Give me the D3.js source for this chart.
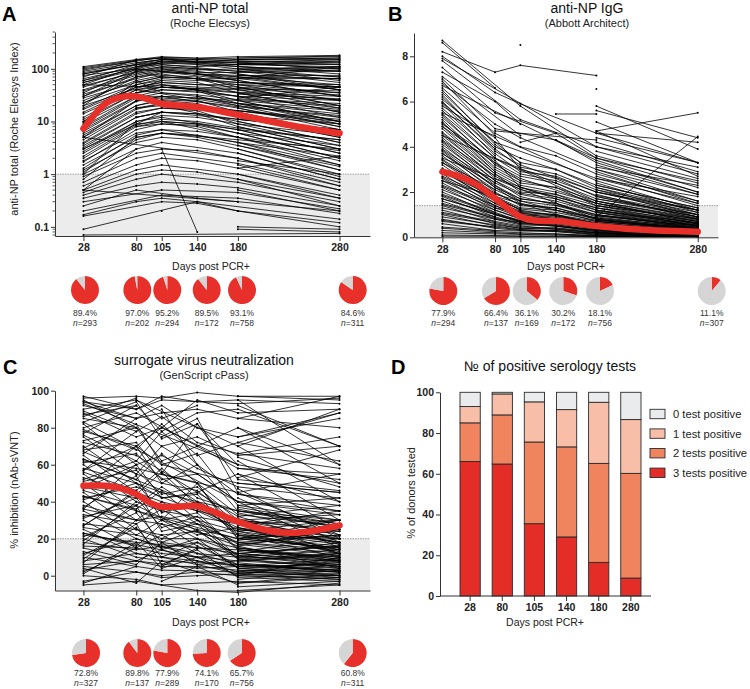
<!DOCTYPE html>
<html><head><meta charset="utf-8">
<script src="https://cdn.jsdelivr.net/npm/d3@7"></script>
<style>
html,body{margin:0;padding:0;background:#fff;}
svg{display:block;font-family:"Liberation Sans",Arial,Helvetica,sans-serif;}
</style></head>
<body>
<svg id="chart" width="750" height="689"></svg>
<script>
// ---------------- DATA ----------------
const days = [28, 80, 105, 140, 180, 280];
const n_ = null;

// Panel A: anti-NP total (Roche Elecsys Index), per-donor trajectories at days
const linesA = [
[110,150,170,160,170,180],[95,140,165,n_,150,150],[90,130,150,150,140,120],[80,120,n_,140,130,100],
[70,150,160,130,110,90],[60,100,130,120,100,70],[50,110,120,n_,90,55],[45,90,110,100,80,45],
[40,80,100,90,70,40],[35,100,90,80,60,30],[30,70,80,n_,50,25],[25,60,75,70,45,20],
[20,90,70,65,40,18],[18,50,60,55,35,15],[15,45,50,n_,30,12],[12,40,45,40,25,10],
[10,35,40,38,22,9],[9,60,35,30,20,8],[8,30,30,n_,18,7],[7,25,28,25,15,6],
[6,20,25,22,12,5],[5,18,20,n_,10,4],[4,15,18,16,9,3.5],[3.5,12,15,14,8,3],
[3,10,12,n_,7,2.5],[2.5,9,10,9,6,2],[2,8,9,8,5,1.8],[1.8,6,7,n_,4,1.5],
[1.5,5,6,5,3.5,1.2],[1.2,4,5,4.5,3,1],[1,3,4,n_,2.5,0.8],[0.9,2.5,3,2.8,2,0.7],
[0.7,2,2.5,n_,1.6,0.6],[0.6,1.5,2,1.8,1.3,0.5],[0.5,1.2,1.5,n_,1,0.4],[0.45,1,1.2,1.1,0.8,0.35],
[0.4,0.8,1,n_,0.7,0.3],[0.35,0.6,0.7,0.65,0.55,0.25],[0.3,n_,0.5,n_,0.45,0.22],[0.25,0.5,n_,0.35,0.3,0.2],
[0.2,n_,0.4,n_,0.35,0.18],[0.17,0.3,0.35,0.3,n_,0.14],[0.16,n_,0.3,0.28,0.2,0.12],[0.09,n_,n_,0.3,0.2,0.1],
[0.07,n_,n_,n_,n_,0.075],[n_,n_,3,0.08,n_,n_],
[105,145,160,150,160,170],[85,120,140,130,150,160],[65,110,140,135,130,150],[55,95,120,110,120,130],
[48,85,105,95,100,110],[38,75,95,85,85,90],[33,65,85,80,75,75],[28,55,70,65,65,65],
[23,50,65,60,55,50],[17,45,55,50,50,45],[14,40,50,45,42,38],[11,35,45,42,36,30],
[9.5,30,40,36,30,25],[7.5,28,35,32,26,20],[6.5,24,30,28,22,16],[5.5,20,26,24,19,13],
[4.5,17,22,20,16,11],[3.8,14,18,17,13,9],[3.2,12,15,14,11,7],[2.7,10,13,12,9,5.5],
[2.2,8.5,11,10,7.5,4.5],[1.7,7,9,8.5,6,3.5],[1.3,5.5,7,6.5,5,2.8],[1.1,4.5,6,5.5,4,2.2],
[n_,130,150,140,140,140],[n_,110,130,n_,120,110],[n_,90,110,100,90,95],[n_,70,90,n_,70,65],
[n_,55,70,65,55,45],[n_,45,55,n_,45,35],[n_,35,45,40,35,26],[n_,25,30,n_,25,17],
[n_,18,22,20,16,10],[n_,12,15,n_,11,7],[n_,8,10,9,7,4.5],[n_,5,6,n_,4.5,3],
[n_,n_,n_,n_,150,160],[n_,n_,n_,n_,140,130],[n_,n_,n_,n_,120,140],[n_,n_,n_,n_,110,80],
[n_,n_,n_,n_,100,60],[n_,n_,n_,n_,90,70],[n_,n_,n_,n_,80,40],[n_,n_,n_,n_,70,50],
[n_,n_,n_,n_,60,30],[n_,n_,n_,n_,50,35],[n_,n_,n_,n_,45,20],[n_,n_,n_,n_,40,25],
[n_,n_,n_,n_,35,15],[n_,n_,n_,n_,30,18],[n_,n_,n_,n_,25,10],[n_,n_,n_,n_,20,12],
[n_,n_,n_,n_,18,8],[n_,n_,n_,n_,15,6],[n_,n_,n_,n_,12,5],[n_,n_,n_,n_,10,4],
[n_,n_,n_,n_,8,3],[n_,n_,n_,n_,6,2],[n_,n_,n_,n_,5,1.5],[n_,n_,n_,n_,4,1.2],
[n_,n_,n_,n_,3,0.9],[n_,n_,n_,n_,2,0.6],[n_,n_,n_,n_,1.5,0.5],[n_,n_,n_,n_,1.3,2.2],
[n_,n_,n_,n_,1,0.35],[n_,n_,n_,n_,0.8,0.25],[n_,n_,n_,n_,0.5,0.2],[n_,n_,n_,n_,0.1,0.09],
[n_,n_,n_,n_,0.09,0.08],[n_,n_,n_,n_,130,100],[n_,n_,n_,n_,65,110],[n_,n_,n_,n_,28,45],
[n_,n_,n_,n_,160,175],[n_,n_,n_,n_,125,120],[n_,n_,n_,n_,95,105],[n_,n_,n_,n_,75,65],
[n_,n_,n_,n_,55,45],[n_,n_,n_,n_,42,32],[n_,n_,n_,n_,33,27],[n_,n_,n_,n_,27,22],
[n_,n_,n_,n_,22,14],[n_,n_,n_,n_,16,9],[n_,n_,n_,n_,11,7],[n_,n_,n_,n_,7,2.5],
[n_,n_,n_,n_,3.5,1.4],[n_,n_,n_,n_,2.5,0.8],[n_,n_,n_,n_,1.8,1.0],
[100,140],[60,120],[30,90],[10,50],[5,25],[1,10],[0.5,3],[0.8,5],[75,100],[22,70],
[80,n_,150],[20,n_,60],[3,n_,15],[55,n_,140],
[n_,n_,150,n_,120],[n_,n_,100,n_,60],[n_,n_,50,n_,30],[n_,n_,10,n_,5],[n_,n_,0.2],
[n_,n_,n_,80,n_,40],[n_,n_,n_,30,n_,10],[n_,n_,n_,120,n_,90],
[50,n_,n_,n_,40],[5,n_,n_,n_,2],[0.5,n_,n_,n_,0.3],[n_,100,n_,n_,60],[n_,40,n_,n_,20]
];
const trendDaysA = [28, 50, 65, 80, 95, 105, 140, 180, 230, 280];
const trendA     = [7.3, 22, 29, 30, 25, 21.7, 18.8, 13.4, 8.6, 6];

// Panel B: anti-NP IgG (Abbott Architect)
const linesB = [
[8.7,n_,5.8,n_,3.6],[8.6,6.6],[8.2,7.3,7.6,n_,7.15],[8.0,6.4,5.9,n_,4.6,3.3],
[7.8,n_,5.2,n_,4.0,2.8],[7.5,5.5,n_,4.6,3.5,2.5],[7.3,6.0,5.0],[7.0,4.8,n_,4.3,3.3,2.0],
[6.8,5.0,4.4,n_,3.0,1.9],[6.6,4.6,4.0,3.6,2.8,1.6],[6.4,4.2,n_,n_,2.6,1.5],[6.2,4.0,3.5,3.0,2.2,1.2],
[6.0,3.8,3.2,n_,2.0,1.0],[5.8,4.4,3.0,2.6,1.8,0.9],[5.6,3.5,n_,2.4,1.6,0.8],[5.4,3.2,2.6,n_,1.5,0.7],
[5.2,3.0,2.4,2.2,1.4,0.6],[5.0,3.4,2.2,n_,1.3,0.6],[4.8,2.8,2.0,1.9,1.2,0.5],[4.6,2.6,n_,1.7,1.1,0.5],
[4.4,2.5,1.8,n_,1.0,0.4],[4.2,2.3,1.7,1.5,0.9,0.4],[4.0,2.2,1.5,n_,0.85,0.35],[3.8,2.0,1.4,1.3,0.8,0.3],
[3.6,1.9,n_,1.2,0.7,0.3],[3.4,1.8,1.2,n_,0.65,0.25],[3.2,1.6,1.1,1.0,0.6,0.25],[3.0,1.5,1.0,n_,0.55,0.2],
[2.8,1.4,0.9,0.85,0.5,0.2],[2.6,1.3,n_,0.8,0.45,0.18],[2.4,1.2,0.8,n_,0.4,0.15],[2.2,1.1,0.7,0.65,0.35,0.15],
[2.0,1.0,0.65,n_,0.3,0.12],[1.8,0.9,0.6,0.55,0.3,0.1],[1.6,0.8,n_,0.5,0.25,0.1],[1.4,0.7,0.5,n_,0.2,0.08],
[1.2,0.6,0.4,0.4,0.2,0.07],[1.0,0.5,0.35,n_,0.15,0.06],[0.8,0.4,0.3,0.3,0.12,0.05],[0.6,0.3,n_,0.25,0.1,0.05],
[0.4,0.25,0.2,n_,0.08,0.04],[0.3,0.2,0.15,0.15,0.06,0.03],[0.2,0.15,n_,0.1,0.05,0.03],[0.1,0.08,0.06,n_,0.04,0.02],
[0.05,n_,0.04,0.04,0.03,0.02],
[6.5,4.1,3.3,3.0,2.3,1.3],[5.7,3.7,2.9,2.7,2.0,1.1],[5.3,3.3,2.7,2.4,1.7,0.9],[4.9,2.9,2.3,2.0,1.5,0.8],
[4.5,2.7,2.1,1.8,1.3,0.7],[4.1,2.4,1.9,1.6,1.1,0.6],[3.7,2.1,1.6,1.4,0.95,0.5],[3.3,1.8,1.3,1.2,0.8,0.4],
[2.9,1.6,1.15,1.0,0.7,0.35],[2.5,1.4,1.0,0.9,0.6,0.3],[2.1,1.2,0.85,0.75,0.5,0.25],[1.7,1.0,0.7,0.6,0.4,0.2],
[1.3,0.8,0.55,0.5,0.3,0.15],[0.9,0.55,0.4,0.35,0.2,0.1],
[5.95,3.9,3.1,2.8,2.1,1.2],[5.45,3.5,2.8,2.5,1.85,1.0],[5.05,3.1,2.5,2.2,1.6,0.85],[4.65,2.8,2.2,1.9,1.4,0.75],
[4.25,2.5,1.95,1.7,1.2,0.65],[3.85,2.2,1.7,1.5,1.0,0.55],[3.45,1.95,1.45,1.3,0.85,0.45],[3.05,1.7,1.25,1.1,0.75,0.38],
[2.65,1.5,1.05,0.95,0.62,0.3],[2.25,1.3,0.9,0.8,0.52,0.26],[1.85,1.05,0.75,0.68,0.42,0.2],[1.45,0.85,0.6,0.55,0.33,0.16],
[1.05,0.65,0.45,0.42,0.25,0.12],[0.75,0.45,0.33,0.3,0.18,0.08],
[n_,n_,n_,5.45,5.45],[n_,n_,n_,n_,4.7,5.5],[n_,n_,n_,n_,0.9,4.45],[n_,n_,8.5],[n_,n_,n_,n_,6.55],
[n_,n_,n_,n_,5.8,3.9],[n_,n_,n_,n_,5.6,4.4],[n_,n_,n_,n_,4.6,4.2],[n_,n_,n_,n_,4.4,3.3],
[n_,n_,n_,n_,4.2,2.9],[n_,n_,n_,n_,3.8,2.6],[n_,n_,n_,n_,3.5,2.2],[n_,n_,n_,n_,3.2,1.9],
[n_,n_,n_,n_,3.0,1.6],[n_,n_,n_,n_,2.7,1.4],[n_,n_,n_,n_,2.4,1.1],[n_,n_,n_,n_,2.1,0.9],
[n_,n_,n_,n_,1.9,0.8],[n_,n_,n_,n_,1.6,0.6],[n_,n_,n_,n_,1.3,0.5],[n_,n_,n_,n_,1.1,0.4],
[n_,n_,n_,n_,0.8,0.3],[n_,n_,n_,n_,0.6,0.2],[n_,n_,n_,n_,0.4,0.15],[n_,n_,n_,n_,0.2,0.1],
[n_,n_,n_,n_,2.9,1.5],[n_,n_,n_,n_,2.5,1.2],[n_,n_,n_,n_,2.2,1.0],[n_,n_,n_,n_,1.8,0.9],
[n_,n_,n_,n_,1.5,0.7],[n_,n_,n_,n_,1.2,0.55],[n_,n_,n_,n_,1.0,0.45],[n_,n_,n_,n_,0.7,0.35],
[n_,n_,n_,n_,0.5,0.25],[n_,n_,n_,n_,0.3,0.15],[n_,n_,n_,n_,0.15,0.05],[n_,n_,n_,n_,4.0,3.1],
[n_,n_,n_,n_,3.6,2.4],[n_,n_,n_,n_,5.1,3.3],[n_,n_,n_,n_,4.7,2.7],
[n_,n_,n_,n_,2.6,1.8],[n_,n_,n_,n_,2.3,1.3],[n_,n_,n_,n_,2.0,1.2],[n_,n_,n_,n_,1.7,1.0],
[n_,n_,n_,n_,1.4,0.8],[n_,n_,n_,n_,1.15,0.65],[n_,n_,n_,n_,0.95,0.5],[n_,n_,n_,n_,0.75,0.4],
[n_,n_,n_,n_,0.55,0.3],[n_,n_,n_,n_,0.35,0.2],[n_,n_,n_,n_,3.4,2.0],[n_,n_,n_,n_,3.1,2.3],
[n_,4.7,n_,n_,4.3],[n_,n_,4.2,4.6],[n_,n_,n_,4.3,3.5],
[7.9,n_,n_,n_,4.0],[6.7,n_,n_,n_,3.4],[5.5,n_,n_,n_,2.5],[4.5,n_,n_,n_,1.5],[3.5,n_,n_,n_,0.8],[2.5,n_,n_,n_,0.5],
[6.9,4.5],[6.3,3.9],[5.9,3.6],[5.1,2.9],[4.3,2.7],[3.9,2.4],[3.3,2.1],[2.7,1.7],[2.3,1.4],[1.9,1.1],
[1.5,0.9],[1.1,0.7],[0.7,0.45],[0.45,0.3],
[7.1,n_,4.5],[6.1,n_,3.3],[4.9,n_,2.5],[3.7,n_,1.6],[2.9,n_,1.2],[1.7,n_,0.7]
];
const trendDaysB = [28, 50, 65, 80, 95, 105, 120, 140, 160, 180, 230, 280];
const trendB     = [2.9, 2.6, 2.24, 1.72, 1.2, 0.91, 0.74, 0.72, 0.62, 0.5, 0.32, 0.25];

// Panel C: surrogate virus neutralization (% inhibition)
const linesC = [
[96,97,96,99,97,97],[94,90,95,n_,93,96],[92,85,88,90,85,80],[90,95,n_,80,70,90],
[88,75,80,n_,60,50],[85,80,70,75,65,70],[82,60,65,55,40,35],[80,88,n_,70,80,60],
[78,70,60,n_,50,45],[75,55,50,60,35,30],[72,65,n_,45,55,40],[70,50,45,40,30,25],
[68,72,55,n_,45,55],[65,45,40,35,25,20],[62,58,n_,50,20,30],[60,40,35,n_,28,18],
[58,50,42,45,32,38],[55,35,30,25,20,15],[52,62,n_,40,35,28],[50,30,28,n_,18,22],
[48,42,38,30,24,12],[45,25,20,20,15,10],[42,48,n_,35,30,33],[40,22,18,n_,12,16],
[38,30,32,28,22,20],[35,20,15,18,10,8],[32,38,n_,22,26,14],[30,15,12,n_,8,12],
[28,25,22,24,16,25],[25,12,10,8,5,6],[22,18,n_,15,14,10],[20,10,8,n_,6,4],
[18,14,16,12,10,18],[15,8,5,5,3,2],[12,20,n_,10,12,8],[10,5,3,n_,2,0],
[8,12,10,6,8,5],[5,2,0,2,0,-2],[3,8,n_,4,5,3],[0,-2,-5,n_,-3,-5],
[-3,2,-1,0,1,0],[-5,-3,n_,-8,-9,-4],
[94,85,92,80,75,88],[87,92,78,88,90,70],[79,68,82,65,72,62],[73,80,62,70,58,52],
[67,55,70,58,48,42],[61,66,52,55,40,33],[56,46,58,42,35,26],[51,57,44,48,30,24],
[46,38,48,36,26,18],[41,50,34,40,22,14],[36,30,40,28,18,12],[31,42,26,32,15,9],
[26,22,30,20,12,7],[21,34,18,25,9,5],[16,15,22,12,6,3],[11,26,10,18,4,2],
[6,8,14,8,2,1],[1,18,4,10,0,-1],
[97,90,97,94,95,93],[89,78,86,72,66,58],[83,94,74,82,52,46],[76,62,78,60,44,38],
[69,82,60,66,38,30],[63,52,66,50,33,27],[57,70,50,46,28,21],[53,44,56,38,24,17],
[47,60,42,44,20,15],[43,36,46,30,17,11],[37,54,30,34,14,8],[33,28,36,24,11,6],
[27,46,24,28,9,4],[23,16,28,16,6,2],[19,38,14,20,4,0],[13,6,18,6,1,-2],
[9,28,6,14,-1,-3],[4,-4,8,2,-4,-1],
[n_,n_,n_,n_,97,95],[n_,n_,n_,n_,92,70],[n_,n_,n_,n_,88,90],[n_,n_,n_,n_,80,50],
[n_,n_,n_,n_,75,85],[n_,n_,n_,n_,70,40],[n_,n_,n_,n_,66,75],[n_,n_,n_,n_,62,30],
[n_,n_,n_,n_,58,55],[n_,n_,n_,n_,55,25],[n_,n_,n_,n_,50,45],[n_,n_,n_,n_,47,20],
[n_,n_,n_,n_,44,35],[n_,n_,n_,n_,40,15],[n_,n_,n_,n_,37,28],[n_,n_,n_,n_,34,22],
[n_,n_,n_,n_,31,12],[n_,n_,n_,n_,28,30],[n_,n_,n_,n_,25,18],[n_,n_,n_,n_,22,10],
[n_,n_,n_,n_,20,24],[n_,n_,n_,n_,18,14],[n_,n_,n_,n_,15,8],[n_,n_,n_,n_,13,20],
[n_,n_,n_,n_,11,5],[n_,n_,n_,n_,9,12],[n_,n_,n_,n_,7,2],[n_,n_,n_,n_,5,9],
[n_,n_,n_,n_,3,-1],[n_,n_,n_,n_,1,6],[n_,n_,n_,n_,-2,3],[n_,n_,n_,n_,-6,-3],
[n_,n_,n_,n_,95,60],[n_,n_,n_,n_,85,97],[n_,n_,n_,n_,72,88],[n_,n_,n_,n_,64,48],
[n_,n_,n_,n_,53,68],[n_,n_,n_,n_,45,22],[n_,n_,n_,n_,38,42],[n_,n_,n_,n_,32,17],
[n_,n_,n_,n_,27,35],[n_,n_,n_,n_,23,13],[n_,n_,n_,n_,19,28],[n_,n_,n_,n_,16,4],
[n_,n_,n_,n_,12,16],[n_,n_,n_,n_,8,11],[n_,n_,n_,n_,4,7],[n_,n_,n_,n_,0,10],[n_,n_,n_,n_,-4,1],
[n_,n_,n_,n_,42,18],[n_,n_,n_,n_,36,26],[n_,n_,n_,n_,30,20],[n_,n_,n_,n_,26,12],
[n_,n_,n_,n_,24,30],[n_,n_,n_,n_,21,16],[n_,n_,n_,n_,17,22],[n_,n_,n_,n_,14,9],
[n_,n_,n_,n_,10,14],[n_,n_,n_,n_,6,3],[n_,n_,n_,n_,2,8],[n_,n_,n_,n_,-8,-5],
[95,80],[86,96],[77,92],[66,85],[57,78],[47,70],[36,60],[27,45],[17,40],[7,30],[2,15],[-4,5],
[n_,95,85,92],[n_,70,80,95,88],[n_,n_,90,60],[n_,n_,75,85,45],[n_,n_,55,82,60],
[n_,n_,30,50,22],[n_,n_,20,30,10],[n_,n_,5,15],[n_,n_,-3,5,-5],
[93,n_,n_,n_,60],[83,n_,n_,n_,40],[63,n_,n_,n_,30],[43,n_,n_,n_,20],[23,n_,n_,n_,5]
];
const trendDaysC = [28, 50, 65, 80, 95, 105, 120, 140, 160, 180, 205, 230, 255, 280];
const trendC     = [48.6, 48.6, 47.2, 44.1, 39.1, 37.3, 37.3, 37.7, 33.7, 29.2, 25, 23.2, 24.3, 27.2];

// Pies: % positive and n
const pctA = [89.4, 97.0, 95.2, 89.5, 93.1, 84.6], nA = [293, 202, 294, 172, 758, 311];
const pctB = [77.9, 66.4, 36.1, 30.2, 18.1, 11.1], nB = [294, 137, 169, 172, 756, 307];
const pctC = [72.8, 89.8, 77.9, 74.1, 65.7, 60.8], nC = [327, 137, 289, 170, 756, 311];

// Panel D: % of donors with N positive tests
const dayLabels = ["28", "80", "105", "140", "180", "280"];
const seriesNames = ["3 tests positive", "2 tests positive", "1 test positive", "0 test positive"];
const three = [66.0, 64.8, 35.5, 29.0, 16.5, 8.8];
const two   = [19.0, 24.1, 40.1, 44.2, 48.6, 51.4];
const one   = [8.0, 10.3, 19.7, 18.3, 30.0, 26.4];
const zero  = [7.0, 0.8, 4.7, 8.5, 4.9, 13.4];

// ---------------- DRAWING ----------------
const svg = d3.select("#chart");
const RED = "#e8302a", PIEGRAY = "#d5d5d5", SHADE = "#ececec";
const FONT = '"Liberation Sans",Arial,sans-serif';

function styleAxis(g) {
  g.selectAll(".domain").attr("stroke", "#333").attr("stroke-width", 1);
  g.selectAll(".tick line").attr("stroke", "#333").attr("stroke-width", 1);
  g.selectAll(".tick text").attr("fill", "#222").style("font-size", "10.5px")
    .style("font-weight", "bold").style("font-family", FONT);
}

function linePanel(o) {
  const g = svg.append("g");
  const x = d3.scaleLinear().domain(o.xDomain).range(o.xRange);
  const y = (o.log ? d3.scaleLog() : d3.scaleLinear()).domain(o.yDomain).range(o.yRange);
  const [x0, x1] = o.xRange, yb = o.yRange[0];
  g.append("rect").attr("x", x0).attr("y", y(o.threshold)).attr("width", x1 - x0)
    .attr("height", yb - y(o.threshold)).attr("fill", SHADE);
  g.append("line").attr("x1", x0).attr("x2", x1).attr("y1", y(o.threshold)).attr("y2", y(o.threshold))
    .attr("stroke", "#888").attr("stroke-width", 0.8).attr("stroke-dasharray", "1.5,1");
  const line = d3.line().x(d => x(d[0])).y(d => y(d[1]));
  const lg = g.append("g");
  o.lines.forEach(v => {
    const pts = days.map((d, i) => [d, v[i]]).filter(p => p[1] != null && p[1] !== undefined);
    if (pts.length > 1) lg.append("path").attr("d", line(pts)).attr("fill", "none")
      .attr("stroke", "#000").attr("stroke-width", 0.8);
    pts.forEach(p => lg.append("circle").attr("cx", x(p[0])).attr("cy", y(p[1])).attr("r", 1).attr("fill", "#000"));
  });
  const tr = o.trendDays.map((d, i) => [d, o.trend[i]]);
  g.append("path").attr("d", d3.line().x(d => x(d[0])).y(d => y(d[1])).curve(d3.curveCatmullRom.alpha(0.5))(tr))
    .attr("fill", "none").attr("stroke", RED).attr("stroke-width", 6.5).attr("stroke-linecap", "round");
  // axes
  const ya = d3.axisLeft(y).tickValues(o.yTicks).tickSize(4).tickPadding(2).tickSizeOuter(0)
    .tickFormat(o.yFormat || d3.format("d"));
  const yg = g.append("g").attr("transform", `translate(${x0},0)`).call(ya);
  styleAxis(yg);
  if (o.minor) {
    g.append("g").selectAll("line").data(o.minor).join("line")
      .attr("x1", x0 - 2.5).attr("x2", x0).attr("y1", d => y(d)).attr("y2", d => y(d))
      .attr("stroke", "#333").attr("stroke-width", 0.8);
  }
  const xa = d3.axisBottom(x).tickValues(days).tickSize(5).tickPadding(3).tickSizeOuter(0).tickFormat(d3.format("d"));
  const xg = g.append("g").attr("transform", `translate(0,${yb})`).call(xa);
  styleAxis(xg);
  g.append("text").attr("x", o.xLabelX).attr("y", o.xLabelY).attr("text-anchor", "middle")
    .style("font-size", "10.5px").attr("fill", "#222").text("Days post PCR+");
  // titles
  g.append("text").attr("x", o.titleX).attr("y", o.titleY).attr("text-anchor", "middle")
    .style("font-size", "14px").attr("fill", "#111").text(o.title);
  g.append("text").attr("x", o.titleX).attr("y", o.titleY + 13.5).attr("text-anchor", "middle")
    .style("font-size", "11px").attr("fill", "#222").text(o.subtitle);
  g.append("text").attr("x", o.letterX).attr("y", o.letterY).style("font-size", "20px")
    .style("font-weight", "bold").attr("fill", "#000").text(o.letter);
  if (o.yLabel) {
    g.append("text").attr("transform", `translate(${o.yLabelX},${o.yLabelY}) rotate(-90)`)
      .attr("text-anchor", "middle").style("font-size", "11px").attr("fill", "#222").text(o.yLabel);
  }
  // pies
  const pie = d3.pie().sort(null).value(d => d);
  const arc = d3.arc().innerRadius(0).outerRadius(14);
  o.pct.forEach((p, i) => {
    const pg = g.append("g").attr("transform", `translate(${o.pieX[i]},${o.pieY})`);
    pg.selectAll("path").data(pie([p, 100 - p])).join("path").attr("d", arc)
      .attr("fill", (d, j) => j === 0 ? RED : PIEGRAY);
    pg.append("text").attr("y", o.pieLabelDy).attr("text-anchor", "middle").style("font-size", "8.5px")
      .attr("fill", "#333").text(p.toFixed(1) + "%");
    const t = pg.append("text").attr("y", o.pieLabelDy + 9.5).attr("text-anchor", "middle")
      .style("font-size", "8.5px").attr("fill", "#333");
    t.append("tspan").style("font-style", "italic").text("n");
    t.append("tspan").text("=" + o.n[i]);
  });
}

linePanel({
  letter: "A", letterX: 2, letterY: 21,
  title: "anti-NP total", subtitle: "(Roche Elecsys)", titleX: 210, titleY: 13,
  xDomain: [0, 310], xRange: [55, 370], yDomain: [0.067, 500], yRange: [236, 32], log: true,
  threshold: 1, yTicks: [0.1, 1, 10, 100], yFormat: d => String(d),
  minor: [0.07,0.08,0.09,0.2,0.3,0.4,0.5,0.6,0.7,0.8,0.9,2,3,4,5,6,7,8,9,20,30,40,50,60,70,80,90,200,300,400,500],
  lines: linesA, trendDays: trendDaysA, trend: trendA,
  xLabelX: 211, xLabelY: 270,
  yLabel: "anti-NP total (Roche Elecsys Index)", yLabelX: 18, yLabelY: 129,
  pct: pctA, n: nA, pieX: [85, 137.3, 167.3, 206.7, 242, 352.7], pieY: 290, pieLabelDy: 26.3
});
linePanel({
  letter: "B", letterX: 388, letterY: 21,
  title: "anti-NP IgG", subtitle: "(Abbott Architect)", titleX: 587, titleY: 13,
  xDomain: [0, 300], xRange: [414, 718], yDomain: [0, 9.03], yRange: [237.3, 33],
  threshold: 1.4, yTicks: [0, 2, 4, 6, 8],
  lines: linesB, trendDays: trendDaysB, trend: trendB,
  xLabelX: 566, xLabelY: 270,
  pct: pctB, n: nB, pieX: [443.3, 496, 526.7, 563.3, 600, 711.7], pieY: 291, pieLabelDy: 25.3
});
linePanel({
  letter: "C", letterX: 3, letterY: 374,
  title: "surrogate virus neutralization", subtitle: "(GenScript cPass)", titleX: 204, titleY: 365,
  xDomain: [0, 310], xRange: [55, 370], yDomain: [-8, 100], yRange: [590.5, 390.7],
  threshold: 20, yTicks: [0, 20, 40, 60, 80, 100],
  lines: linesC, trendDays: trendDaysC, trend: trendC,
  xLabelX: 211, xLabelY: 626,
  yLabel: "% inhibition (nAb-sVNT)", yLabelX: 18, yLabelY: 490,
  pct: pctC, n: nC, pieX: [86, 137.3, 167.3, 206.7, 241.7, 352.7], pieY: 653, pieLabelDy: 23
});

// Panel D
(function () {
  const g = svg.append("g");
  const x = d3.scaleBand().domain(dayLabels).range([460, 641]).paddingInner(0.37).paddingOuter(0);
  const y = d3.scaleLinear().domain([0, 100]).range([596, 392.3]);
  const colors = ["#e52d27", "#f0845f", "#f9bea7", "#e9ebed"];
  const table = dayLabels.map((d, i) => ({ day: d, s0: three[i], s1: two[i], s2: one[i], s3: zero[i] }));
  const stack = d3.stack().keys(["s0", "s1", "s2", "s3"])(table);
  stack.forEach((layer, k) => {
    g.append("g").selectAll("rect").data(layer).join("rect")
      .attr("x", d => x(d.data.day)).attr("width", x.bandwidth())
      .attr("y", d => y(d[1])).attr("height", d => y(d[0]) - y(d[1]))
      .attr("fill", colors[k]).attr("stroke", "#2a2a2a").attr("stroke-width", 0.9);
  });
  const yg = g.append("g").attr("transform", "translate(440,0)")
    .call(d3.axisLeft(y).tickValues([0, 20, 40, 60, 80, 100]).tickSize(4).tickPadding(2).tickSizeOuter(0));
  styleAxis(yg);
  g.append("line").attr("x1", 440).attr("x2", 651).attr("y1", 596).attr("y2", 596)
    .attr("stroke", "#333").attr("stroke-width", 1);
  const xg2 = g.append("g").attr("transform", "translate(0,596)")
    .call(d3.axisBottom(x).tickSize(5).tickPadding(3).tickSizeOuter(0));
  xg2.select(".domain").remove();
  styleAxis(xg2);
  g.append("text").attr("x", 545).attr("y", 626).attr("text-anchor", "middle")
    .style("font-size", "10.5px").attr("fill", "#222").text("Days post PCR+");
  g.append("text").attr("x", 550).attr("y", 371).attr("text-anchor", "middle")
    .style("font-size", "14px").attr("fill", "#111").text("№ of positive serology tests");
  g.append("text").attr("x", 391).attr("y", 374).style("font-size", "20px")
    .style("font-weight", "bold").attr("fill", "#000").text("D");
  g.append("text").attr("transform", "translate(415,493) rotate(-90)").attr("text-anchor", "middle")
    .style("font-size", "11px").attr("fill", "#222").text("% of donors tested");
  const legendOrder = [3, 2, 1, 0];
  legendOrder.forEach((k, i) => {
    const yy = 414 + i * 19.6;
    g.append("rect").attr("x", 650).attr("y", yy - 4.7).attr("width", 15).attr("height", 9.4)
      .attr("fill", colors[k]).attr("stroke", "#2a2a2a").attr("stroke-width", 0.9);
    g.append("text").attr("x", 673).attr("y", yy + 4).style("font-size", "11.2px")
      .attr("fill", "#222").text(seriesNames[k]);
  });
})();
</script>
</body></html>
